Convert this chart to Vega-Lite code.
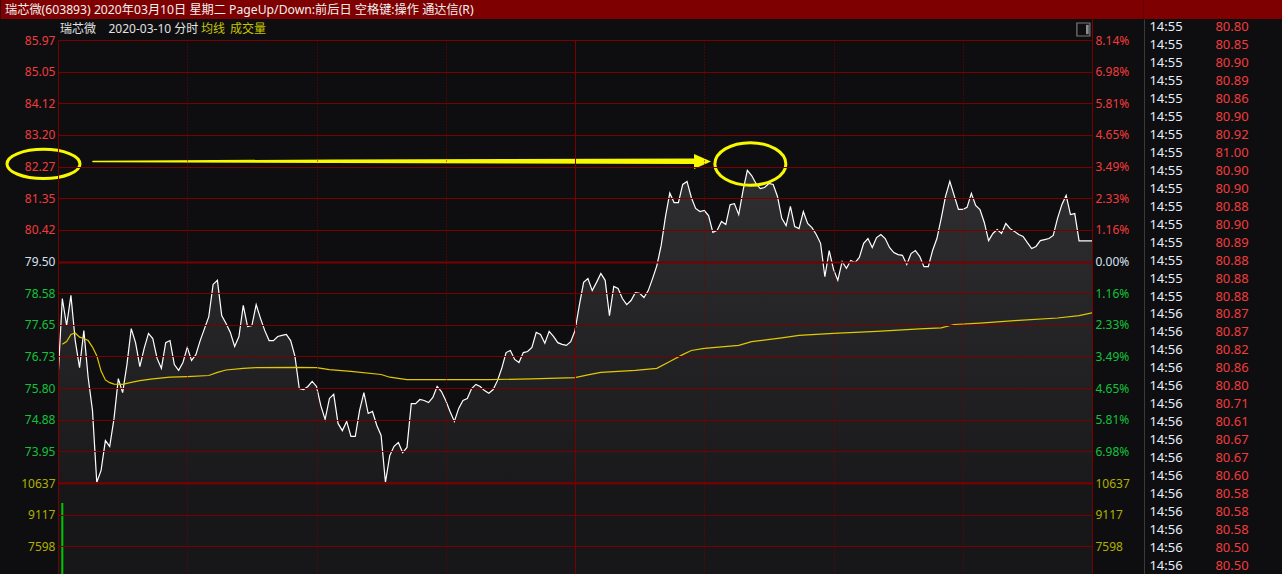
{
  "$schema": "https://vega.github.io/schema/vega-lite/v6.json",
  "background": "#0e0e10",
  "padding": 0,
  "spacing": 0,
  "bounds": "full",
  "config": {
    "view": {"stroke": null},
    "concat": {"spacing": 0},
    "axis": {"labelFont": "Noto Sans", "labelFontSize": 12, "labelFlush": false, "labelOverlap": false, "labelBound": false},
    "text": {"font": "Noto Sans"},
    "title": {"font": "Noto Sans CJK SC", "fontWeight": "normal"}
  },
  "datasets": {
    "price": [
      {"t":0,"p":76.08},{"t":1,"p":78.42},{"t":2,"p":77.63},{"t":3,"p":78.51},{"t":4,"p":77.19},{"t":5,"p":76.40},{"t":6,"p":77.48},{"t":7,"p":76.11},{"t":8,"p":75.15},{"t":9,"p":73.05},
      {"t":10,"p":73.40},{"t":11,"p":74.27},{"t":12,"p":74.10},{"t":13,"p":74.91},{"t":14,"p":76.08},{"t":15,"p":75.67},{"t":16,"p":76.49},{"t":17,"p":77.54},{"t":18,"p":77.13},{"t":19,"p":76.43},
      {"t":20,"p":76.96},{"t":21,"p":77.40},{"t":22,"p":77.25},{"t":23,"p":76.67},{"t":24,"p":76.38},{"t":25,"p":77.13},{"t":26,"p":77.19},{"t":27,"p":76.49},{"t":28,"p":76.32},{"t":29,"p":76.55},
      {"t":30,"p":76.99},{"t":31,"p":76.61},{"t":32,"p":76.78},{"t":33,"p":77.19},{"t":34,"p":77.54},{"t":35,"p":77.89},{"t":36,"p":78.83},{"t":37,"p":78.95},{"t":38,"p":77.92},{"t":39,"p":77.69},
      {"t":40,"p":77.43},{"t":41,"p":77.02},{"t":42,"p":77.31},{"t":43,"p":78.22},{"t":44,"p":77.60},{"t":45,"p":77.63},{"t":46,"p":78.24},{"t":47,"p":77.84},{"t":48,"p":77.48},{"t":49,"p":77.19},
      {"t":50,"p":77.19},{"t":51,"p":77.31},{"t":52,"p":77.34},{"t":53,"p":77.37},{"t":54,"p":77.19},{"t":55,"p":76.73},{"t":56,"p":75.79},{"t":57,"p":75.76},{"t":58,"p":75.85},{"t":59,"p":76.00},
      {"t":60,"p":75.85},{"t":61,"p":75.29},{"t":62,"p":74.89},{"t":63,"p":75.50},{"t":64,"p":75.62},{"t":65,"p":74.77},{"t":66,"p":74.56},{"t":67,"p":74.83},{"t":68,"p":74.39},{"t":69,"p":74.39},
      {"t":70,"p":75.15},{"t":71,"p":75.67},{"t":72,"p":75.06},{"t":73,"p":75.12},{"t":74,"p":74.71},{"t":75,"p":74.42},{"t":76,"p":73.05},{"t":77,"p":73.83},{"t":78,"p":74.10},{"t":79,"p":74.21},
      {"t":80,"p":73.92},{"t":81,"p":74.07},{"t":82,"p":75.35},{"t":83,"p":75.35},{"t":84,"p":75.47},{"t":85,"p":75.44},{"t":86,"p":75.38},{"t":87,"p":75.53},{"t":88,"p":75.85},{"t":89,"p":75.70},
      {"t":90,"p":75.44},{"t":91,"p":75.12},{"t":92,"p":74.83},{"t":93,"p":75.21},{"t":94,"p":75.44},{"t":95,"p":75.50},{"t":96,"p":75.79},{"t":97,"p":75.91},{"t":98,"p":75.85},{"t":99,"p":75.73},
      {"t":100,"p":75.65},{"t":101,"p":75.76},{"t":102,"p":76.02},{"t":103,"p":76.38},{"t":104,"p":76.84},{"t":105,"p":76.90},{"t":106,"p":76.64},{"t":107,"p":76.55},{"t":108,"p":76.84},{"t":109,"p":76.87},
      {"t":110,"p":76.99},{"t":111,"p":77.43},{"t":112,"p":77.37},{"t":113,"p":77.11},{"t":114,"p":77.46},{"t":115,"p":77.31},{"t":116,"p":77.13},{"t":117,"p":77.08},{"t":118,"p":77.05},{"t":119,"p":77.16},
      {"t":120,"p":77.48},{"t":121,"p":78.22},{"t":122,"p":78.89},{"t":123,"p":79.00},{"t":124,"p":78.65},{"t":125,"p":78.89},{"t":126,"p":79.15},{"t":127,"p":78.95},{"t":128,"p":77.92},{"t":129,"p":78.77},
      {"t":130,"p":78.71},{"t":131,"p":78.42},{"t":132,"p":78.24},{"t":133,"p":78.36},{"t":134,"p":78.59},{"t":135,"p":78.57},{"t":136,"p":78.45},{"t":137,"p":78.65},{"t":138,"p":79.00},{"t":139,"p":79.38},
      {"t":140,"p":79.97},{"t":141,"p":80.81},{"t":142,"p":81.50},{"t":143,"p":81.22},{"t":144,"p":81.22},{"t":145,"p":81.75},{"t":146,"p":81.84},{"t":147,"p":81.37},{"t":148,"p":81.05},{"t":149,"p":80.96},
      {"t":150,"p":80.99},{"t":151,"p":80.84},{"t":152,"p":80.35},{"t":153,"p":80.41},{"t":154,"p":80.67},{"t":155,"p":80.58},{"t":156,"p":81.16},{"t":157,"p":81.19},{"t":158,"p":80.87},{"t":159,"p":81.57},
      {"t":160,"p":82.16},{"t":161,"p":82.01},{"t":162,"p":81.78},{"t":163,"p":81.63},{"t":164,"p":81.66},{"t":165,"p":81.78},{"t":166,"p":81.75},{"t":167,"p":81.40},{"t":168,"p":80.76},{"t":169,"p":80.55},
      {"t":170,"p":81.11},{"t":171,"p":80.52},{"t":172,"p":80.46},{"t":173,"p":80.96},{"t":174,"p":80.61},{"t":175,"p":80.49},{"t":176,"p":80.29},{"t":177,"p":80.03},{"t":178,"p":79.06},{"t":179,"p":79.82},
      {"t":180,"p":79.27},{"t":181,"p":78.95},{"t":182,"p":79.50},{"t":183,"p":79.30},{"t":184,"p":79.53},{"t":185,"p":79.47},{"t":186,"p":79.62},{"t":187,"p":80.03},{"t":188,"p":80.17},{"t":189,"p":79.91},
      {"t":190,"p":80.20},{"t":191,"p":80.29},{"t":192,"p":80.17},{"t":193,"p":79.91},{"t":194,"p":79.76},{"t":195,"p":79.70},{"t":196,"p":79.68},{"t":197,"p":79.41},{"t":198,"p":79.73},{"t":199,"p":79.82},
      {"t":200,"p":79.65},{"t":201,"p":79.35},{"t":202,"p":79.35},{"t":203,"p":79.82},{"t":204,"p":80.17},{"t":205,"p":80.76},{"t":206,"p":81.40},{"t":207,"p":81.84},{"t":208,"p":81.43},{"t":209,"p":81.02},
      {"t":210,"p":81.02},{"t":211,"p":81.08},{"t":212,"p":81.49},{"t":213,"p":81.14},{"t":214,"p":81.02},{"t":215,"p":80.64},{"t":216,"p":80.11},{"t":217,"p":80.32},{"t":218,"p":80.43},{"t":219,"p":80.32},
      {"t":220,"p":80.61},{"t":221,"p":80.46},{"t":222,"p":80.38},{"t":223,"p":80.29},{"t":224,"p":80.23},{"t":225,"p":80.05},{"t":226,"p":79.88},{"t":227,"p":79.94},{"t":228,"p":80.11},{"t":229,"p":80.14},
      {"t":230,"p":80.17},{"t":231,"p":80.26},{"t":232,"p":80.76},{"t":233,"p":81.16},{"t":234,"p":81.43},{"t":235,"p":80.87},{"t":236,"p":80.90},{"t":237,"p":80.10},{"t":238,"p":80.10},{"t":239,"p":80.10},
      {"t":240,"p":80.10}
    ],
    "avg": [
      {"t":1,"a":77.08},{"t":2,"a":77.16},{"t":3,"a":77.37},{"t":4,"a":77.41},{"t":5,"a":77.29},{"t":6,"a":77.25},{"t":7,"a":77.19},{"t":8,"a":77.00},{"t":9,"a":76.75},{"t":10,"a":76.30},
      {"t":11,"a":76.04},{"t":12,"a":75.96},{"t":13,"a":75.92},{"t":15,"a":75.91},{"t":17,"a":75.97},{"t":19,"a":76.02},{"t":22,"a":76.07},{"t":26,"a":76.12},{"t":30,"a":76.14},{"t":35,"a":76.17},
      {"t":37,"a":76.26},{"t":39,"a":76.33},{"t":43,"a":76.38},{"t":46,"a":76.40},{"t":55,"a":76.41},{"t":60,"a":76.40},{"t":63,"a":76.34},{"t":68,"a":76.29},{"t":75,"a":76.20},{"t":77,"a":76.12},
      {"t":81,"a":76.05},{"t":90,"a":76.05},{"t":100,"a":76.05},{"t":110,"a":76.07},{"t":120,"a":76.11},{"t":123,"a":76.19},{"t":126,"a":76.26},{"t":134,"a":76.32},{"t":139,"a":76.38},{"t":142,"a":76.58},
      {"t":145,"a":76.78},{"t":147,"a":76.90},{"t":150,"a":76.96},{"t":158,"a":77.05},{"t":161,"a":77.16},{"t":168,"a":77.27},{"t":172,"a":77.34},{"t":180,"a":77.40},{"t":190,"a":77.46},{"t":200,"a":77.53},
      {"t":205,"a":77.56},{"t":208,"a":77.66},{"t":214,"a":77.70},{"t":223,"a":77.78},{"t":232,"a":77.85},{"t":237,"a":77.92},{"t":240,"a":78.00}
    ],
    "vol": [{"t":1,"v":9675}],
    "ticks": [
      {"i":1,"time":"14:55","price":80.80},{"i":2,"time":"14:55","price":80.85},{"i":3,"time":"14:55","price":80.90},{"i":4,"time":"14:55","price":80.89},
      {"i":5,"time":"14:55","price":80.86},{"i":6,"time":"14:55","price":80.90},{"i":7,"time":"14:55","price":80.92},{"i":8,"time":"14:55","price":81.00},
      {"i":9,"time":"14:55","price":80.90},{"i":10,"time":"14:55","price":80.90},{"i":11,"time":"14:55","price":80.88},{"i":12,"time":"14:55","price":80.90},
      {"i":13,"time":"14:55","price":80.89},{"i":14,"time":"14:55","price":80.88},{"i":15,"time":"14:55","price":80.88},{"i":16,"time":"14:55","price":80.88},
      {"i":17,"time":"14:56","price":80.87},{"i":18,"time":"14:56","price":80.87},{"i":19,"time":"14:56","price":80.82},{"i":20,"time":"14:56","price":80.86},
      {"i":21,"time":"14:56","price":80.80},{"i":22,"time":"14:56","price":80.71},{"i":23,"time":"14:56","price":80.61},{"i":24,"time":"14:56","price":80.67},
      {"i":25,"time":"14:56","price":80.67},{"i":26,"time":"14:56","price":80.60},{"i":27,"time":"14:56","price":80.58},{"i":28,"time":"14:56","price":80.58},
      {"i":29,"time":"14:56","price":80.58},{"i":30,"time":"14:56","price":80.50},{"i":31,"time":"14:56","price":80.50}
    ],
    "caption": [{"text": "瑞芯微(603893) 2020年03月10日 星期二 PageUp/Down:前后日 空格键:操作 通达信(R)"}]
  },
  "hconcat": [
    {
      "spacing": 0,
      "bounds": "flush",
      "vconcat": [
        {
          "width": 1034,
          "height": 19,
          "data": {"name": "caption"},
          "layer": [
            {
              "mark": {"type": "rect", "color": "#7f0000"},
              "encoding": {
                "x": {"datum": -13.3, "type": "quantitative", "scale": {"domain": [0, 240], "nice": false, "zero": false}, "axis": null},
                "x2": {"datum": 252}
              }
            },
            {
              "mark": {"type": "text", "align": "left", "baseline": "middle", "fontSize": 12.2, "color": "#f0f0f0", "font": "Noto Sans, Noto Sans CJK SC"},
              "encoding": {
                "x": {"datum": -12.3, "type": "quantitative", "scale": {"domain": [0, 240], "nice": false, "zero": false}, "axis": null},
                "text": {"field": "text", "type": "nominal"}
              }
            }
          ]
        },
        {
          "width": 1034,
          "height": 21,
          "title": {"text": "瑞芯微\u00a0\u00a0\u00a0 2020-03-10 分时", "anchor": "start", "frame": "group", "orient": "bottom", "offset": -11, "dx": 2, "baseline": "middle", "fontSize": 12, "color": "#e2e2e2", "font": "Noto Sans, Noto Sans CJK SC"},
          "layer": [
            {
              "data": {"values": [{"k": "icon"}]},
              "mark": {"type": "point", "shape": "square", "size": 169, "filled": false, "stroke": "#7a7a7a", "strokeWidth": 1.2, "opacity": 1},
              "encoding": {
                "x": {"datum": 238, "type": "quantitative", "scale": {"domain": [0, 240], "nice": false, "zero": false},
                  "axis": {"values": [240], "grid": true, "gridColor": "#8a0000", "labels": false, "ticks": false, "domain": false, "title": null}}
              }
            },
            {
              "data": {"values": [{"k": "icon"}]},
              "mark": {"type": "point", "shape": "M0.4,-0.72 L0.82,-0.72 L0.82,0.72 L0.4,0.72 Z", "size": 169, "filled": true, "fill": "#8c8c8c", "strokeWidth": 0, "opacity": 1},
              "encoding": {
                "x": {"datum": 238, "type": "quantitative", "scale": {"domain": [0, 240], "nice": false, "zero": false}}
              }
            }
          ]
        },
        {
          "width": 1034,
          "height": 443,
          "resolve": {"axis": {"y": "independent"}},
          "layer": [
            {
              "data": {"name": "price"},
              "mark": {"type": "area", "clip": true, "fill": {"gradient": "linear", "x1": 0, "y1": 0, "x2": 0, "y2": 1, "stops": [{"offset": 0, "color": "#2f2f31"}, {"offset": 1, "color": "#1a1a1c"}]}},
              "encoding": {
                "x": {"field": "t", "type": "quantitative", "scale": {"domain": [0, 240], "nice": false, "zero": false},
                  "axis": {"values": [0, 30, 60, 90, 120, 150, 180, 210, 240], "grid": true, "gridColor": "#7a0000",
                    "gridDash": {"condition": {"test": "datum.value % 120 === 0", "value": []}, "value": [1, 2]},
                    "labels": false, "ticks": false, "domain": false, "title": null, "zindex": 1}},
                "y": {"field": "p", "type": "quantitative", "scale": {"domain": [73.03, 85.97], "nice": false, "zero": false},
                  "axis": {"orient": "left", "values": [73.03, 73.9543, 74.8786, 75.8029, 76.7271, 77.6514, 78.5757, 79.5, 80.4243, 81.3486, 82.2729, 83.1971, 84.1214, 85.0457, 85.97],
                    "grid": true, "gridColor": "#7a0000",
                    "gridWidth": {"condition": {"test": "abs(datum.value - 79.5) < 0.01 || datum.value < 73.1", "value": 2}, "value": 1},
                    "labelExpr": "datum.value < 73.5 ? '' : format(datum.value, '.2f')",
                    "labelColor": {"condition": [{"test": "datum.value > 79.6", "value": "#f23c3c"}, {"test": "datum.value < 79.4", "value": "#12c23c"}], "value": "#d6e0f0"},
                    "labelPadding": 3, "ticks": false, "domain": false, "title": null, "zindex": 1, "minExtent": 50}},
                "y2": {"datum": 73.03}
              }
            },
            {
              "data": {"name": "price"},
              "mark": {"type": "line", "color": "#ffffff", "strokeWidth": 1.2, "clip": true},
              "encoding": {
                "x": {"field": "t", "type": "quantitative", "scale": {"domain": [0, 240], "nice": false, "zero": false}},
                "y": {"field": "p", "type": "quantitative", "scale": {"domain": [73.03, 85.97], "nice": false, "zero": false}, "axis": null}
              }
            },
            {
              "data": {"name": "avg"},
              "mark": {"type": "line", "strokeWidth": 1.2, "clip": true},
              "encoding": {
                "x": {"field": "t", "type": "quantitative", "scale": {"domain": [0, 240], "nice": false, "zero": false}},
                "y": {"field": "a", "type": "quantitative", "scale": {"domain": [73.03, 85.97], "nice": false, "zero": false},
                  "axis": {"orient": "right", "values": [73.03, 73.9543, 74.8786, 75.8029, 76.7271, 77.6514, 78.5757, 79.5, 80.4243, 81.3486, 82.2729, 83.1971, 84.1214, 85.0457, 85.97],
                    "grid": false,
                    "labelExpr": "datum.value < 73.5 ? '' : format(abs(datum.value - 79.5) / 79.5 * 100, '.2f') + '%'",
                    "labelColor": {"condition": [{"test": "datum.value > 79.6", "value": "#f23c3c"}, {"test": "datum.value < 79.4", "value": "#12c23c"}], "value": "#d6e0f0"},
                    "labelPadding": 3, "ticks": false, "domain": false, "title": null, "minExtent": 51}},
                "color": {"datum": "均线", "type": "nominal", "scale": {"domain": ["均线", "成交量"], "range": ["#e2c800", "#00c800"]},
                  "legend": {"orient": "none", "legendX": 145, "legendY": 23, "direction": "horizontal", "title": null,
                    "symbolSize": 0, "symbolStrokeWidth": 0, "symbolOpacity": 0, "labelOffset": -14, "columnPadding": 4, "padding": 0,
                    "labelFontSize": 12, "labelFont": "Noto Sans CJK SC", "labelColor": "#c8c400"}}
              }
            },
            {
              "data": {"values": [{"t": 8.1, "p": 82.42, "part": "tail"}, {"t": 63.6, "p": 82.43, "part": "mid"}, {"t": 147.6, "p": 82.43, "part": "head"}]},
              "mark": {"type": "trail", "color": "#f8f800"},
              "encoding": {
                "x": {"field": "t", "type": "quantitative", "scale": {"domain": [0, 240], "nice": false, "zero": false}},
                "y": {"field": "p", "type": "quantitative", "scale": {"domain": [73.03, 85.97], "nice": false, "zero": false}, "axis": null},
                "size": {"field": "part", "type": "ordinal", "scale": {"domain": ["tail", "mid", "head"], "range": [1.5, 5.5, 7]}, "legend": null}
              }
            },
            {
              "data": {"values": [{"t": 149.6, "p": 82.42}]},
              "mark": {"type": "point", "shape": "M-1,-0.88 L1,0 L-1,0.88 Z", "size": 289, "filled": true, "color": "#f8f800", "opacity": 1},
              "encoding": {
                "x": {"field": "t", "type": "quantitative", "scale": {"domain": [0, 240], "nice": false, "zero": false}},
                "y": {"field": "p", "type": "quantitative", "scale": {"domain": [73.03, 85.97], "nice": false, "zero": false}, "axis": null}
              }
            },
            {
              "data": {"values": [{"t": -3.37, "p": 82.35}]},
              "mark": {"type": "point", "shape": "M-1,0 A1,0.4 0 1,0 1,0 A1,0.4 0 1,0 -1,0 Z", "size": 5329, "filled": false, "stroke": "#f8f800", "strokeWidth": 3, "opacity": 1},
              "encoding": {
                "x": {"field": "t", "type": "quantitative", "scale": {"domain": [0, 240], "nice": false, "zero": false}},
                "y": {"field": "p", "type": "quantitative", "scale": {"domain": [73.03, 85.97], "nice": false, "zero": false}, "axis": null}
              }
            },
            {
              "data": {"values": [{"t": 160.7, "p": 82.35}]},
              "mark": {"type": "point", "shape": "M-1,0 A1,0.6 0 1,0 1,0 A1,0.6 0 1,0 -1,0 Z", "size": 5041, "filled": false, "stroke": "#f8f800", "strokeWidth": 3, "opacity": 1},
              "encoding": {
                "x": {"field": "t", "type": "quantitative", "scale": {"domain": [0, 240], "nice": false, "zero": false}},
                "y": {"field": "p", "type": "quantitative", "scale": {"domain": [73.03, 85.97], "nice": false, "zero": false}, "axis": null}
              }
            }
          ]
        },
        {
          "width": 1034,
          "height": 91,
          "view": {"fill": "#17171a"},
          "resolve": {"axis": {"y": "independent"}},
          "data": {"name": "vol"},
          "layer": [
            {
              "mark": {"type": "rule", "color": "#00c800", "strokeWidth": 2, "clip": true},
              "encoding": {
                "x": {"field": "t", "type": "quantitative", "scale": {"domain": [0, 240], "nice": false, "zero": false},
                  "axis": {"values": [0, 30, 60, 90, 120, 150, 180, 210, 240], "grid": true, "gridColor": "#7a0000",
                    "gridDash": {"condition": {"test": "datum.value % 120 === 0", "value": []}, "value": [1, 2]},
                    "labels": false, "ticks": false, "domain": false, "title": null, "zindex": 1}},
                "y": {"field": "v", "type": "quantitative", "scale": {"domain": [6262, 10637], "nice": false, "zero": false},
                  "axis": {"orient": "left", "values": [7598, 9117, 10637], "format": "d", "grid": true, "gridColor": "#7a0000",
                    "gridWidth": {"condition": {"test": "datum.value > 10600", "value": 2}, "value": 1},
                    "labelColor": "#b0b000", "labelPadding": 3, "ticks": false, "domain": false, "title": null, "zindex": 1, "minExtent": 50}},
                "y2": {"datum": 6262}
              }
            },
            {
              "mark": {"type": "rule", "opacity": 0, "clip": true},
              "encoding": {
                "x": {"field": "t", "type": "quantitative", "scale": {"domain": [0, 240], "nice": false, "zero": false}},
                "y": {"field": "v", "type": "quantitative", "scale": {"domain": [6262, 10637], "nice": false, "zero": false},
                  "axis": {"orient": "right", "values": [7598, 9117, 10637], "format": "d", "grid": false,
                    "labelColor": "#b0b000", "labelPadding": 3, "ticks": false, "domain": false, "title": null, "minExtent": 51}},
                "y2": {"datum": 6262}
              }
            }
          ]
        }
      ]
    },
    {
      "spacing": 0,
      "bounds": "flush",
      "vconcat": [
        {
          "width": 141,
          "height": 19,
          "view": {"fill": "#7f0000"},
          "data": {"values": []},
          "mark": "text",
          "encoding": {}
        },
        {
          "width": 141,
          "height": 555,
          "data": {"name": "ticks"},
          "layer": [
            {
              "mark": {"type": "text", "fontSize": 13, "color": "#e6eefa", "clip": true},
              "encoding": {
                "x": {"datum": "time", "type": "nominal", "scale": {"type": "point", "domain": ["time", "price"], "range": [22, 88], "padding": 0}, "axis": null},
                "y": {"field": "i", "type": "ordinal", "scale": {"type": "point", "padding": 0.45},
                  "axis": {"orient": "left", "domain": true, "domainColor": "#3a3a3a", "labels": false, "ticks": false, "grid": false, "title": null, "minExtent": 0}},
                "text": {"field": "time", "type": "nominal"}
              }
            },
            {
              "mark": {"type": "text", "fontSize": 13, "color": "#f23c3c", "clip": true},
              "encoding": {
                "x": {"datum": "price", "type": "nominal", "scale": {"type": "point", "domain": ["time", "price"], "range": [22, 88], "padding": 0}, "axis": null},
                "y": {"field": "i", "type": "ordinal", "scale": {"type": "point", "padding": 0.45}},
                "text": {"field": "price", "type": "quantitative", "format": ".2f"}
              }
            }
          ]
        }
      ]
    }
  ]
}
